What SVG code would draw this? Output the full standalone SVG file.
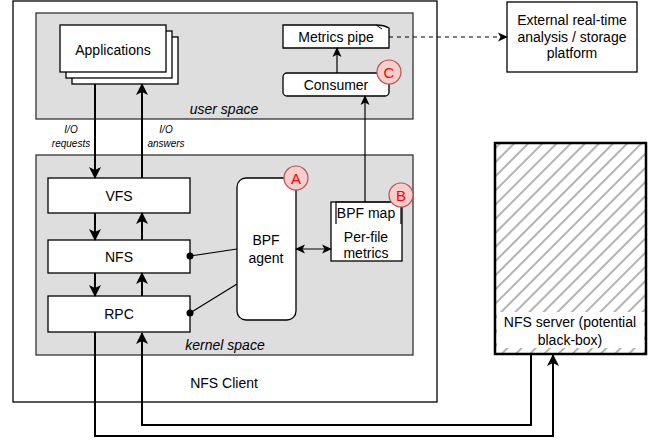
<svg xmlns="http://www.w3.org/2000/svg" width="656" height="442" viewBox="0 0 656 442">
<style>
text{font-family:"Liberation Sans",Arial,sans-serif;font-size:14px;fill:#000;text-anchor:middle}
.it{font-style:italic}
.sm{font-size:10px}
.box{fill:#fff;stroke:#000;stroke-width:1.3}
.area{fill:#dedede;stroke:#333;stroke-width:1.3}
.badge{fill:#f8cecc;stroke:#b85450;stroke-width:1.2}
.bl{fill:#ff0000;font-size:15px}
.th{fill:none;stroke:#000;stroke-width:2}
.tn{fill:none;stroke:#000;stroke-width:1.2}
</style>
<defs>
<marker id="ah" markerUnits="userSpaceOnUse" markerWidth="12" markerHeight="12" viewBox="0 0 12 12" refX="11" refY="6" orient="auto">
<path d="M0,0 L12,6 L0,12 L3,6 z" fill="#000"/>
</marker>
<marker id="as" markerUnits="userSpaceOnUse" markerWidth="10" markerHeight="10" viewBox="0 0 10 10" refX="9" refY="5" orient="auto-start-reverse">
<path d="M0,0.5 L10,5 L0,9.5 L2.5,5 z" fill="#000"/>
</marker>
<marker id="dot" markerUnits="userSpaceOnUse" markerWidth="8" markerHeight="8" viewBox="0 0 8 8" refX="4" refY="4">
<circle cx="4" cy="4" r="3.5" fill="#000"/>
</marker>
<pattern id="hatch" patternUnits="userSpaceOnUse" width="10" height="10" patternTransform="rotate(45)">
<line x1="5" y1="0" x2="5" y2="10" stroke="#9a9a9a" stroke-width="1.5"/>
</pattern>
</defs>
<rect width="656" height="442" fill="#fff"/>

<g id="nfs-client">
<rect class="box" x="13" y="1" width="424" height="401"/>
<text x="224" y="388">NFS Client</text>
</g>
<g id="user-space">
<rect class="area" x="36" y="13" width="377" height="106"/>
<text class="it" x="224" y="114">user space</text>
</g>
<g id="kernel-space">
<rect class="area" x="36" y="155" width="377" height="200"/>
<text class="it" x="225" y="350">kernel space</text>
</g>

<g id="applications">
<rect class="box" x="72" y="37" width="106" height="47"/>
<rect class="box" x="66" y="31" width="106" height="47"/>
<rect class="box" x="60" y="25" width="106" height="47"/>
<text x="113" y="55">Applications</text>
</g>
<g id="metrics-pipe">
<path class="box" d="M283,25 H376 Q384,25 389,28 V48 H283 Z"/>
<path d="M376,25 L382,29" fill="none" stroke="#000" stroke-width="1"/>
<text x="336" y="42">Metrics pipe</text>
</g>
<g id="consumer">
<rect class="box" x="283" y="73" width="106" height="23" rx="4"/>
<text x="336" y="90">Consumer</text>
<circle class="badge" cx="389" cy="72" r="12"/>
<text class="bl" x="389" y="77.5">C</text>
</g>
<g id="external">
<rect class="box" x="507" y="2" width="130" height="70"/>
<text x="572" y="25">External real-time</text>
<text x="572" y="41.5">analysis / storage</text>
<text x="572" y="58">platform</text>
</g>
<g id="vfs">
<rect class="box" x="48" y="178" width="142" height="35"/>
<text x="119" y="200.5">VFS</text>
</g>
<g id="nfs">
<rect class="box" x="48" y="240" width="142" height="33"/>
<text x="119" y="261.5">NFS</text>
</g>
<g id="rpc">
<rect class="box" x="48" y="296" width="142" height="36"/>
<text x="119" y="319">RPC</text>
</g>
<g id="bpf-agent">
<rect class="box" x="237" y="178" width="59" height="142" rx="9"/>
<text x="266" y="245">BPF</text>
<text x="266" y="263">agent</text>
<circle class="badge" cx="296" cy="178" r="12"/>
<text class="bl" x="296" y="183.5">A</text>
</g>
<g id="bpf-map">
<rect class="box" x="331" y="202" width="71" height="59"/>
<path d="M336,224 V202 H401 V224" fill="none" stroke="#000" stroke-width="1.2"/>
<text x="366" y="218">BPF map</text>
<text x="366" y="242">Per-file</text>
<text x="366" y="258">metrics</text>
<circle class="badge" cx="401" cy="195" r="12"/>
<text class="bl" x="401" y="200.5">B</text>
</g>
<g id="nfs-server">
<rect x="495" y="143" width="151" height="211" fill="#fff"/>
<rect x="495" y="143" width="151" height="211" fill="url(#hatch)"/>
<rect x="497" y="312" width="147" height="36" fill="#fff"/>
<rect x="495" y="143" width="151" height="211" fill="none" stroke="#000" stroke-width="2.5"/>
<text x="570" y="327">NFS server (potential</text>
<text x="570" y="345">black-box)</text>
</g>

<g id="connectors">
<line class="th" x1="95" y1="84" x2="95" y2="178" marker-end="url(#ah)"/>
<line class="th" x1="142" y1="178" x2="142" y2="84" marker-end="url(#ah)"/>
<line class="th" x1="95" y1="213" x2="95" y2="240" marker-end="url(#ah)"/>
<line class="th" x1="142" y1="240" x2="142" y2="213" marker-end="url(#ah)"/>
<line class="th" x1="95" y1="273" x2="95" y2="296" marker-end="url(#ah)"/>
<line class="th" x1="142" y1="296" x2="142" y2="273" marker-end="url(#ah)"/>
<polyline class="th" points="95,332 95,436 553,436 553,355" marker-end="url(#ah)"/>
<polyline class="th" points="531,354 531,425 142,425 142,333" marker-end="url(#ah)"/>
<line class="tn" x1="365" y1="202" x2="365" y2="96" marker-end="url(#as)"/>
<line class="tn" x1="337" y1="73" x2="337" y2="48" marker-end="url(#as)"/>
<line class="tn" x1="389" y1="37" x2="507" y2="37" stroke-dasharray="4 4" marker-end="url(#as)"/>
<line class="tn" x1="296" y1="249" x2="331" y2="249" marker-start="url(#as)" marker-end="url(#as)"/>
<line class="tn" x1="190" y1="256" x2="237" y2="249" marker-start="url(#dot)"/>
<line class="tn" x1="190" y1="313" x2="237" y2="284" marker-start="url(#dot)"/>
<text class="it sm" x="71" y="133">I/O</text>
<text class="it sm" x="71" y="147">requests</text>
<text class="it sm" x="166" y="133">I/O</text>
<text class="it sm" x="166" y="147">answers</text>
</g>
</svg>
